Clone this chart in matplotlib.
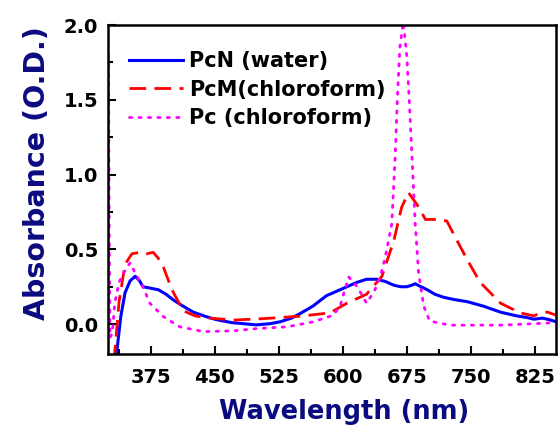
import matplotlib.pyplot as plt
from matplotlib.ticker import MultipleLocator

plt.rcParams['font.family'] = ['DejaVu Sans']
plt.rcParams['font.weight'] = 'bold'

# --- Spectra ---
pcn_wl = [334, 340, 345, 351, 357, 362, 366, 375, 384, 393, 402, 413, 425, 440, 452, 470,
          499, 515, 527, 540, 550, 565, 581, 593, 605, 617, 628, 640, 650, 660, 668, 675,
          681, 685, 690, 699, 708, 718, 730, 746, 765, 785, 804, 815, 824, 834, 842, 850]
pcn_abs = [-0.25, 0.05, 0.21, 0.29, 0.32, 0.29, 0.25, 0.24, 0.23, 0.20, 0.16, 0.12, 0.08, 0.05, 0.03, 0.01,
           -0.005, 0.003, 0.016, 0.04, 0.07, 0.12, 0.19, 0.22, 0.25, 0.28, 0.30, 0.30, 0.285, 0.26, 0.25, 0.25,
           0.26, 0.27, 0.255, 0.23, 0.20, 0.18, 0.165, 0.15, 0.12, 0.08, 0.055, 0.045, 0.033, 0.04, 0.03, 0.016]

pcm_wl = [332, 338, 345, 353, 362, 370, 378, 384, 390, 400, 413, 427, 441, 472, 511, 550,
          585, 605, 628, 646, 660, 669, 677, 687, 697, 710, 722, 732, 746, 761, 785, 808,
          824, 833, 840, 850]
pcm_abs = [-0.25, 0.15, 0.40, 0.47, 0.48, 0.47, 0.48, 0.44, 0.38, 0.23, 0.09, 0.055, 0.042, 0.027, 0.038, 0.053,
           0.075, 0.14, 0.20, 0.32, 0.56, 0.78, 0.88, 0.80, 0.70, 0.70, 0.69, 0.58, 0.43, 0.28, 0.14, 0.075,
           0.055, 0.078, 0.08, 0.06]

pc_wl = [325.5, 326.5, 327.5, 330, 333, 338, 343, 351, 357, 366, 374, 390, 409, 437, 472, 499,
         535, 566, 589, 597, 601, 607, 617, 628, 637, 644, 650, 657.5, 661.5, 664, 667, 671,
         675, 678, 681, 685, 689, 695, 702, 726, 785, 839, 850]
pc_abs = [1.8, 0.6, -0.09, -0.06, 0.14, 0.28, 0.34, 0.41, 0.34, 0.25, 0.14, 0.05, -0.018, -0.05, -0.045, -0.03,
          -0.018, 0.016, 0.06, 0.12, 0.20, 0.315, 0.25, 0.14, 0.22, 0.315, 0.45, 0.67, 1.12, 1.5, 1.85, 2.02,
          1.8, 1.5, 1.14, 0.67, 0.34, 0.12, 0.02, -0.007, -0.007, 0.007, 0.01]

x_ticks = [375, 450, 525, 600, 675, 750, 825]

# --- Plot ---
fig = plt.figure(figsize=(5.58, 4.25), dpi=100)
ax = fig.add_axes([0.1935, 0.167, 0.803, 0.774])

ax.plot(pcn_wl, pcn_abs, color='#0000FF', lw=2.2, label='PcN (water)')
ax.plot(pcm_wl, pcm_abs, color='#FF0000', lw=2.0, dashes=(6, 3), label='PcM(chloroform)')
ax.plot(pc_wl, pc_abs, color='#FF00FF', lw=2.0, dashes=(0.8, 2.6), dash_capstyle='round',
        label='Pc (chloroform)')

ax.set_xlim(325, 850)
ax.set_ylim(-0.2, 2.0)
ax.set_xticks(x_ticks)
ax.xaxis.set_minor_locator(MultipleLocator(37.5))
ax.yaxis.set_major_locator(MultipleLocator(0.5))
ax.yaxis.set_minor_locator(MultipleLocator(0.25))
ax.tick_params(which='both', direction='in', width=1.5, labelsize=14, top=False, right=False)
ax.tick_params(which='major', length=6)
ax.tick_params(axis='x', which='major', pad=10)
ax.tick_params(axis='y', which='major', pad=7)
ax.tick_params(which='minor', length=3.5)
for lab in ax.get_xticklabels() + ax.get_yticklabels():
    lab.set_fontweight('bold')
for s in ax.spines.values():
    s.set_linewidth(1.8)

ax.set_xlabel('Wavelength (nm)', fontsize=18.5, fontweight='bold', color='#0B0B80', labelpad=9)
ax.set_ylabel('Absorbance (O.D.)', fontsize=20.5, fontweight='bold', color='#0B0B80', labelpad=9)
ax.xaxis.label.set_x(0.527)
ax.yaxis.label.set_y(0.55)

ax.legend(loc='upper left', frameon=False, prop={'weight': 'bold', 'size': 15},
          handlelength=2.6, handletextpad=0.3, labelspacing=0.42,
          bbox_to_anchor=(0.0, 0.985), borderaxespad=0.6)

fig.savefig('out.png', dpi=100)
